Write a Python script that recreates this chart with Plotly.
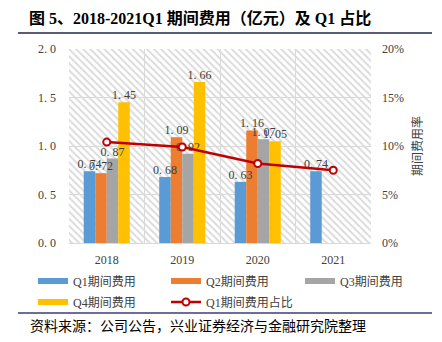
import plotly.graph_objects as go

# Quarterly period expenses (100 million yuan) and Q1 expense ratio
years = ["2018", "2019", "2020", "2021"]
q1_cost = [0.74, 0.68, 0.63, 0.74]
q2_cost = [0.72, 1.09, 1.16, None]
q3_cost = [0.87, 0.92, 1.07, None]
q4_cost = [1.45, 1.66, 1.05, None]
q1_ratio = [0.104, 0.099, 0.082, 0.075]

left_ticks = [0, 0.5, 1.0, 1.5, 2.0]
right_ticks = [0, 0.05, 0.10, 0.15, 0.20]

series = [
    ("Q1期间费用", q1_cost, "#5B9BD5"),
    ("Q2期间费用", q2_cost, "#ED7D31"),
    ("Q3期间费用", q3_cost, "#A5A5A5"),
    ("Q4期间费用", q4_cost, "#FFC000"),
]
ratio_name = "Q1期间费用占比"
ratio_color = "#C00000"

W, H = 442, 342
L, R, T, B = 69, 71, 49, 99
GAP = 0.39

SERIF = "Liberation Serif, Noto Sans CJK SC"
TXT = "#404040"


def fmt(v):
    return None if v is None else f"{v:.2f}".replace(".", ". ")


fig = go.Figure()

# hatched plot background on the base (hidden) axes
fig.add_trace(go.Bar(
    x=[0.5], y=[1], width=[1], xaxis="x", yaxis="y",
    marker=dict(color="white", line=dict(width=0),
                pattern=dict(shape="\\", fillmode="replace", bgcolor="rgba(255,255,255,0)",
                             fgcolor="#dadada", fgopacity=1, size=5, solidity=0.38)),
    hoverinfo="skip", showlegend=False,
))

for name, vals, color in series:
    fig.add_trace(go.Bar(
        x=years, y=vals, name=name, xaxis="x2", yaxis="y2",
        marker=dict(color=color, line=dict(width=0)),
        hoverinfo="x+y", showlegend=False,
    ))

# value labels, grouped the same way as the bars so they sit above them
for name, vals, color in series:
    fig.add_trace(go.Scatter(
        x=years, y=vals, xaxis="x2", yaxis="y2", mode="text",
        orientation="v", text=[fmt(v) for v in vals],
        textposition="top center",
        textfont=dict(family=SERIF, size=12, color=TXT),
        cliponaxis=False, hoverinfo="skip", showlegend=False,
    ))

fig.add_trace(go.Scatter(
    x=years, y=q1_ratio, name=ratio_name, xaxis="x2", yaxis="y3",
    mode="lines+markers",
    line=dict(color=ratio_color, width=2.5),
    marker=dict(symbol="circle", size=7, color="white",
                line=dict(color=ratio_color, width=2)),
    legend="legend5",
))

# legend entries for the bar series, drawn as thick strokes
legend_ids = ["legend", "legend2", "legend3", "legend4"]
for (name, vals, color), lid in zip(series, legend_ids):
    fig.add_trace(go.Scatter(
        x=[None], y=[None], name=name, mode="lines", xaxis="x", yaxis="y",
        line=dict(color=color, width=6), legend=lid,
    ))

axis_font = dict(family=SERIF, size=12, color=TXT)


def legend_box(xpix, ypix):
    return dict(orientation="h", xref="container", yref="container",
                x=xpix / W, y=1 - ypix / H, xanchor="left", yanchor="middle",
                font=dict(family=SERIF, size=12, color=TXT),
                bgcolor="rgba(0,0,0,0)", itemwidth=30)


fig.update_layout(
    width=W, height=H,
    margin=dict(l=L, r=R, t=T, b=B, autoexpand=False),
    paper_bgcolor="white", plot_bgcolor="white",
    barmode="group", bargap=GAP, bargroupgap=0,
    scattermode="group", scattergap=GAP,
    showlegend=True,
    xaxis=dict(range=[0, 1], visible=False, fixedrange=True),
    yaxis=dict(range=[0, 1], visible=False, fixedrange=True),
    xaxis2=dict(overlaying="x", anchor="y2", type="category",
                tickson="boundaries", showgrid=True, gridcolor="#d9d9d9",
                gridwidth=1, showline=True, linecolor="#d9d9d9",
                ticks="", tickfont=axis_font, ticklabelstandoff=6),
    yaxis2=dict(overlaying="y", anchor="x", side="left", range=[0, 2],
                tickvals=left_ticks,
                ticktext=[f"{v:.1f}".replace(".", ". ") for v in left_ticks],
                showgrid=True, gridcolor="#d9d9d9", gridwidth=1,
                zeroline=False, showline=False, ticks="",
                tickfont=axis_font, ticklabelstandoff=12),
    yaxis3=dict(overlaying="y", anchor="x", side="right", range=[0, 0.20],
                tickvals=right_ticks,
                ticktext=[f"{round(v * 100)}%" for v in right_ticks],
                showgrid=False, zeroline=False, showline=False, ticks="",
                tickfont=axis_font, ticklabelstandoff=10,
                title=dict(text="期间费用率", font=dict(family=SERIF, size=12, color=TXT),
                           standoff=10)),
    legend=legend_box(33, 281),
    legend2=legend_box(166, 281),
    legend3=legend_box(300, 281),
    legend4=legend_box(33, 302),
    legend5=legend_box(166, 302),
)

# heading, rules and source note
PW, PH = W - L - R, H - T - B
fig.add_annotation(
    text="<b>图 5、2018-2021Q1 期间费用（亿元）及 Q1 占比</b>",
    xref="paper", yref="paper", x=(27 - L) / PW, y=1 + (T - 18) / PH,
    xanchor="left", yanchor="middle", showarrow=False,
    font=dict(family=SERIF, size=16, color="black"),
)
fig.add_annotation(
    text="资料来源：公司公告，兴业证券经济与金融研究院整理",
    xref="paper", yref="paper", x=(28 - L) / PW, y=-(326 - (H - B)) / PH,
    xanchor="left", yanchor="middle", showarrow=False,
    font=dict(family=SERIF, size=14, color="black"),
)


def hline(ypix, color, width):
    fig.add_shape(
        type="line", xref="paper", yref="paper",
        x0=(18 - L) / PW, x1=(432 - L) / PW,
        y0=(H - B - ypix) / PH, y1=(H - B - ypix) / PH,
        line=dict(color=color, width=width), layer="above",
    )


hline(33, "#5a5a7a", 2)
hline(313, "#3c3c78", 1.5)

fig.write_html("out.html")
